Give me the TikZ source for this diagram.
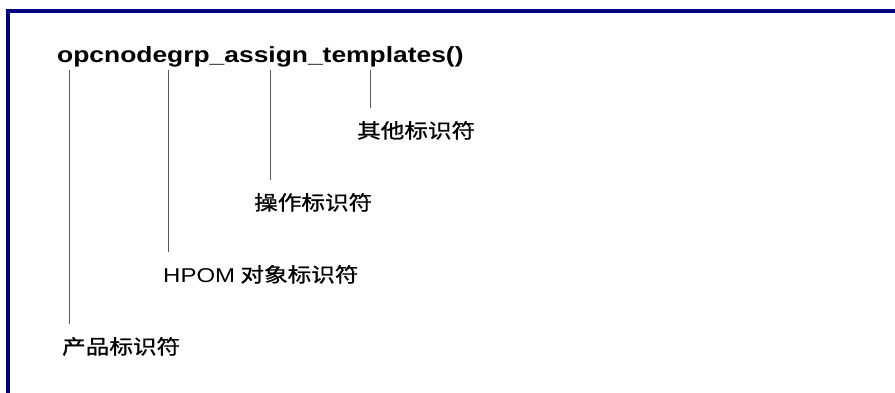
\documentclass[tikz,border=0pt]{standalone}
\usepackage{fontspec}
\setmainfont{Liberation Sans}[FakeStretch=1.2]
\newfontfamily\cjk{Noto Sans CJK SC}[FakeStretch=1.18, FakeBold=1]
\usetikzlibrary{positioning}

\definecolor{framenavy}{RGB}{0,0,128}

\begin{document}
\begin{tikzpicture}[x=1pt, y=-1pt,
	every node/.style={inner sep=0pt},
	tick/.style={draw=black!65, line width=1pt, shorten >=13pt},
	idlabel/.style={anchor=base west, font=\fontsize{20}{24}\selectfont\cjk}]
	\useasboundingbox (0,0) rectangle (895,393);

	% frame (only top and left edges show)
	\draw [framenavy, line width=3.5pt] (8,393) -- (8,11) -- (895,11);

	% function name
	\node [anchor=base west, font=\fontsize{22}{26}\selectfont\bfseries] (func) at (57,63) {opcnodegrp\_assign\_templates()};

	% tick tops under the name
	\coordinate (prodtop) at (69,70);
	\coordinate (objtop) at (168,70);
	\coordinate (optop) at (270,70);
	\coordinate (othertop) at (370,70);

	% labels
	\node [idlabel] (other) at (357,138) {其他标识符};
	\node [idlabel] (op) at (254,210) {操作标识符};
	\node [idlabel] (obj) at (163,282) {{\rmfamily HPOM} 对象标识符};
	\node [idlabel] (prod) at (62,354) {产品标识符};

	\draw [tick] (othertop) -- (othertop |- other.north);
	\draw [tick] (optop) -- (optop |- op.north);
	\draw [tick] (objtop) -- (objtop |- obj.north);
	\draw [tick] (prodtop) -- (prodtop |- prod.north);
\end{tikzpicture}
\end{document}
